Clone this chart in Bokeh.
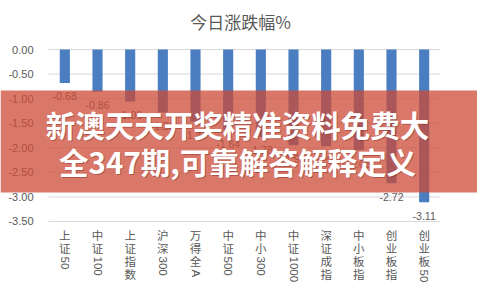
import math
from bokeh.plotting import figure
from bokeh.models import Range1d, ColumnDataSource, BoxAnnotation, Label
from bokeh.core.properties import value
from bokeh.embed import file_html
from bokeh.resources import INLINE

# ---------------- data ----------------
categories = ["上证50", "中证100", "上证指数", "沪深300", "万得全A", "中证500",
              "中小300", "中证1000", "深证成指", "中小板指", "创业板指", "创业板50"]
changes = [-0.68, -0.86, -1.06, -1.28, -1.47, -1.64, -1.78, -1.95, -1.97, -2.05, -2.72, -3.11]
y_ticks = [0.0, -0.5, -1.0, -1.5, -2.0, -2.5, -3.0, -3.5]
title_text = "今日涨跌幅%"
banner_lines = ["新澳天天开奖精准资料免费大", "全347期,可靠解答解释定义"]

# ---------------- style / layout ----------------
BAR = "#4a7ec0"
GREY = "#595959"
GRID = "#d9d9d9"
CJK = "Noto Sans CJK SC"
LAT = "Liberation Sans"
W, H = 477, 283
PLOT_L, PLOT_R, PLOT_T = 48, 440, 49      # plotting area in pixels
PX_PER_UNIT = 49.14
n = len(categories)
px_per_cat = (PLOT_R - PLOT_L) / n
x_start = -0.5 - PLOT_L / px_per_cat
x_end = n - 0.5 + (W - PLOT_R) / px_per_cat
y_end = PLOT_T / PX_PER_UNIT
y_start = -(H - PLOT_T) / PX_PER_UNIT

idx = list(range(n))

p = figure(width=W, height=H, x_range=Range1d(x_start, x_end),
           y_range=Range1d(y_start, y_end), output_backend="svg", toolbar_location=None,
           min_border=0, x_axis_location=None, y_axis_location=None)
p.outline_line_color = None
p.background_fill_color = "white"
p.border_fill_color = "white"
p.xgrid.visible = False
p.ygrid.visible = False

# gridlines across the category span
p.segment(x0=[-0.5] * len(y_ticks), x1=[n - 0.5] * len(y_ticks), y0=y_ticks, y1=y_ticks,
          line_color=GRID, line_width=1)
# y tick labels
p.text(x=[-0.5] * len(y_ticks), y=y_ticks, text=[f"{t:.2f}" for t in y_ticks],
       x_offset=-15, text_align="right", text_baseline="middle",
       text_font=value(LAT), text_font_size="11px", text_color=GREY)

src = ColumnDataSource(dict(x=idx, top=[0.0] * n, bottom=changes,
                            lab=[f"{v:.2f}" for v in changes]))
p.vbar(x="x", top="top", bottom="bottom", width=0.31, source=src,
       fill_color=BAR, line_color=None)
p.text(x="x", y="bottom", text="lab", source=src, y_offset=13.5,
       text_align="center", text_baseline="middle", text_font=value(LAT),
       text_font_size="10.5px", text_color=GREY)

# category labels: stacked CJK characters, rotated latin/digit runs
cjk = dict(x=[], y=[], t=[], off=[])
lat = dict(x=[], y=[], t=[], off=[])
base = y_ticks[-1]
for i, c in enumerate(categories):
    k = 0
    run = ""
    for ch in c:
        if ord(ch) < 128:
            run += ch
        else:
            cjk["x"].append(i); cjk["y"].append(base); cjk["t"].append(ch)
            cjk["off"].append(14 + 13 * k)
            k += 1
    if run:
        lat["x"].append(i); lat["y"].append(base); lat["t"].append(run)
        lat["off"].append(9 + 13 * k)
p.text(x="x", y="y", text="t", y_offset="off", source=ColumnDataSource(cjk),
       text_align="center", text_baseline="middle", text_font=value(CJK),
       text_font_size="11.5px", text_color=GREY)
p.text(x="x", y="y", text="t", y_offset="off", source=ColumnDataSource(lat),
       angle=-math.pi / 2, text_align="left", text_baseline="middle",
       text_font=value(LAT), text_font_size="11.5px", text_color=GREY)

# title
p.add_layout(Label(x=240, y=H - 21, x_units="screen", y_units="screen",
                   text=title_text, text_align="center", text_baseline="middle",
                   text_font=CJK, text_font_size="17px", text_color=GREY))

# overlay banner
p.add_layout(BoxAnnotation(bottom=H - 192, top=H - 90,
                           bottom_units="screen", top_units="screen",
                           fill_color="#cc4b37", fill_alpha=0.75, line_color=None,
                           level="annotation"))
for line, xc, yc in zip(banner_lines, [237, 237], [123, 160]):
    p.add_layout(Label(x=xc + 1, y=H - yc - 1, x_units="screen", y_units="screen",
                       text=line, text_align="center", text_baseline="middle",
                       text_font=CJK, text_font_style="bold", text_font_size="29.5px",
                       text_color="#7a2a22", text_alpha=0.45))
    p.add_layout(Label(x=xc, y=H - yc, x_units="screen", y_units="screen",
                       text=line, text_align="center", text_baseline="middle",
                       text_font=CJK, text_font_style="bold", text_font_size="29.5px",
                       text_color="white"))

open("out.html", "w").write(file_html(p, INLINE))
